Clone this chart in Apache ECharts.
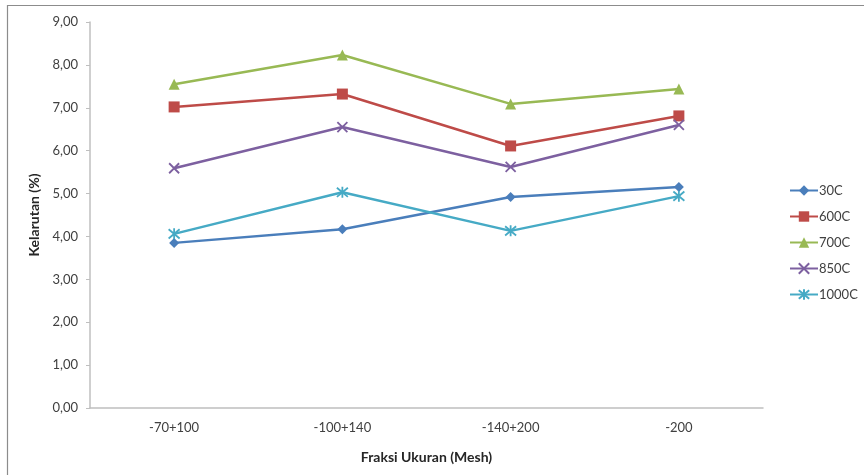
<!DOCTYPE html>
<html><head><meta charset="utf-8">
<script src="https://cdn.jsdelivr.net/npm/echarts@6/dist/echarts.min.js"></script>
<style>html,body{margin:0;padding:0;background:#fff}#c{width:864px;height:475px}</style>
</head><body><div id="c"></div>
<script>
const categories = ['-70+100', '-100+140', '-140+200', '-200'];
const s30C = [3.85, 4.17, 4.92, 5.15];
const s600C = [7.02, 7.32, 6.11, 6.81];
const s700C = [7.55, 8.23, 7.09, 7.44];
const s850C = [5.59, 6.55, 5.62, 6.60];
const s1000C = [4.06, 5.03, 4.13, 4.94];
const seriesNames = ['30C', '600C', '700C', '850C', '1000C'];
const yTicks = {min: 0, max: 9, interval: 1};

const colors = ['#4A7EBB', '#BE4B48', '#98B954', '#7D60A0', '#46AAC5'];
const FONT = 'Lato, "Open Sans", sans-serif';
const xPath = 'path://M0,0L10,10M10,0L0,10';
const starPath = 'path://M0,0L10,10M10,0L0,10M5,-1L5,11';
const symbols = ['diamond', 'rect', 'triangle', xPath, starPath];
const sizes = [10, 11, 11, 10, 11];
const dataSets = [s30C, s600C, s700C, s850C, s1000C];

const chart = echarts.init(document.getElementById('c'), null, {renderer: 'canvas'});
chart.setOption({
  animation: false,
  backgroundColor: '#fff',
  graphic: [{type: 'rect', shape: {x: 7.5, y: 5.5, width: 900, height: 500}, style: {fill: 'none', stroke: '#8c8c8c', lineWidth: 1.2}, silent: true, z: -1}],
  grid: {left: 90, right: 101, top: 22, bottom: 67},
  legend: {
    orient: 'vertical', left: 784, top: 179, itemGap: 13, itemWidth: 28, itemHeight: 13,
    data: seriesNames,
    textStyle: {fontFamily: FONT, fontSize: 13, color: '#404040', padding: [0, 0, 0, -4]}
  },
  xAxis: {
    type: 'category', data: categories, boundaryGap: true,
    axisLine: {lineStyle: {color: '#BFBFBF', width: 1.5}},
    axisTick: {show: false},
    axisLabel: {fontFamily: FONT, fontSize: 13, color: '#404040', margin: 13},
    name: 'Fraksi Ukuran (Mesh)', nameLocation: 'middle', nameGap: 42,
    nameTextStyle: {fontFamily: FONT, fontSize: 14, fontWeight: 'bold', color: '#262626'}
  },
  yAxis: {
    type: 'value', min: yTicks.min, max: yTicks.max, interval: yTicks.interval,
    axisLine: {show: true, lineStyle: {color: '#BFBFBF', width: 1.5}},
    axisTick: {show: true, length: 4, lineStyle: {color: '#BFBFBF'}},
    splitLine: {show: false},
    axisLabel: {fontFamily: FONT, fontSize: 13, color: '#404040', margin: 12,
      formatter: v => v.toFixed(2).replace('.', ',')},
    name: 'Kelarutan (%)', nameLocation: 'middle', nameGap: 46, nameRotate: 90,
    nameTextStyle: {fontFamily: FONT, fontSize: 14, fontWeight: 'bold', color: '#262626'}
  },
  series: seriesNames.map((n, i) => {
    const stroked = i >= 3;
    return {
      name: n, type: 'line', data: dataSets[i],
      symbol: symbols[i], symbolSize: sizes[i], showSymbol: true,
      lineStyle: {color: colors[i], width: 2.5},
      itemStyle: stroked ? {color: colors[i], borderColor: colors[i], borderWidth: 1.8, opacity: 1} : {color: colors[i], borderWidth: 0},
      z: 2
    };
  })
});
</script></body></html>
